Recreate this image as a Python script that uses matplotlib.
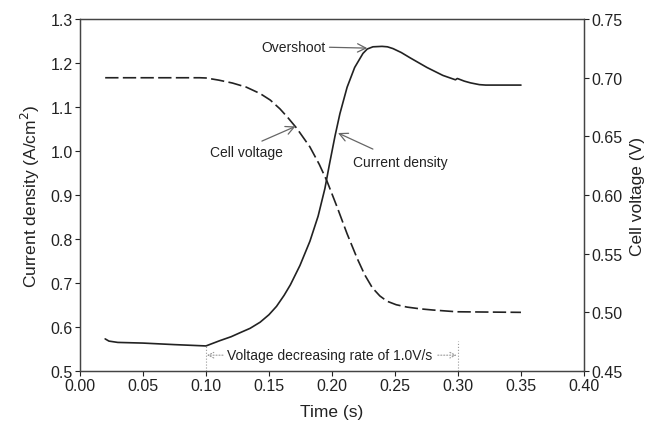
import matplotlib
matplotlib.use("Agg")
import matplotlib.pyplot as plt

plt.rcParams['font.family'] = ['Liberation Sans', 'DejaVu Sans']

# Current density (A/cm^2) vs time (s)
time_i = [0.020, 0.023, 0.030, 0.050, 0.075, 0.100, 0.111, 0.120, 0.127, 0.135,
          0.143, 0.150, 0.156, 0.162, 0.167, 0.1746, 0.1825, 0.189, 0.1944, 0.198,
          0.2024, 0.2063, 0.212, 0.218, 0.2246, 0.228, 0.2325, 0.2397, 0.244,
          0.2484, 0.255, 0.262, 0.2754, 0.288, 0.298, 0.2995, 0.305, 0.310, 0.317,
          0.322, 0.350]
current = [0.573, 0.568, 0.565, 0.5635, 0.560, 0.557, 0.569, 0.578, 0.587, 0.597,
           0.611, 0.628, 0.647, 0.672, 0.696, 0.740, 0.795, 0.852, 0.915, 0.970,
           1.034, 1.085, 1.145, 1.190, 1.222, 1.232, 1.237, 1.238, 1.237,
           1.233, 1.224, 1.212, 1.190, 1.172, 1.162, 1.165, 1.159, 1.155, 1.151,
           1.150, 1.150]

# Cell voltage (V) vs time (s)
time_v = [0.020, 0.095, 0.100, 0.110, 0.121, 0.132, 0.143, 0.151, 0.1587, 0.165,
          0.172, 0.1825, 0.190, 0.196, 0.204, 0.212, 0.220, 0.226, 0.232, 0.238,
          0.2437, 0.251, 0.2595, 0.270, 0.280, 0.299, 0.350]
voltage = [0.700, 0.700, 0.6998, 0.698, 0.6955, 0.692, 0.6865, 0.681, 0.6735, 0.666,
           0.657, 0.641, 0.626, 0.612, 0.590, 0.567, 0.546, 0.532, 0.521, 0.514,
           0.5095, 0.5065, 0.5045, 0.503, 0.502, 0.5005, 0.500]

x_ticks = [0.00, 0.05, 0.10, 0.15, 0.20, 0.25, 0.30, 0.35, 0.40]
y_ticks = [0.5, 0.6, 0.7, 0.8, 0.9, 1.0, 1.1, 1.2, 1.3]
y2_ticks = [0.45, 0.50, 0.55, 0.60, 0.65, 0.70, 0.75]

ink = '#222222'
grey = '#666666'

fig = plt.figure(figsize=(6.72, 4.35), dpi=100)
ax = fig.add_axes([0.119, 0.1448, 0.750, 0.809])
ax2 = ax.twinx()

ax.plot(time_i, current, color=ink, lw=1.2, solid_joinstyle='round',
        solid_capstyle='round')
ax2.plot(time_v, voltage, color=ink, lw=1.2, linestyle=(0, (8, 2.6)),
         dash_joinstyle='round')

ax.set_xlim(0.0, 0.4)
ax.set_ylim(0.5, 1.3)
ax2.set_ylim(0.45, 0.75)
ax.set_xticks(x_ticks)
ax.set_xticklabels([f"{t:.2f}" for t in x_ticks])
ax.set_yticks(y_ticks)
ax.set_yticklabels([f"{t:.1f}" for t in y_ticks])
ax2.set_yticks(y2_ticks)
ax2.set_yticklabels([f"{t:.2f}" for t in y2_ticks])

for a in (ax, ax2):
    a.tick_params(direction='out', length=3.5, width=0.8, labelsize=11.5,
                  colors=ink, pad=1.5)
    for s in a.spines.values():
        s.set_color('#444444')
        s.set_linewidth(0.9)

ax.set_xlabel('Time (s)', fontsize=12.5, color=ink, labelpad=8)
ax.set_ylabel('Current density (A/cm$^2$)', fontsize=12.5, color=ink, labelpad=6)
ax2.set_ylabel('Cell voltage (V)', fontsize=12.5, color=ink, labelpad=6)

arrow = dict(arrowstyle='->', color=grey, lw=0.9, shrinkA=0, shrinkB=0,
             mutation_scale=15)

# Overshoot
ax.text(0.195, 1.236, 'Overshoot', ha='right', va='center', fontsize=10, color=ink)
ax.annotate('', xy=(0.228, 1.234), xytext=(0.198, 1.236), arrowprops=arrow)

# Current density label
ax.text(0.254, 0.975, 'Current density', ha='center', va='center', fontsize=10, color=ink)
ax.annotate('', xy=(0.2048, 1.041), xytext=(0.2325, 1.0045), arrowprops=arrow)

# Cell voltage label
ax2.text(0.1325, 0.6367, 'Cell voltage', ha='center', va='center', fontsize=10, color=ink)
ax2.annotate('', xy=(0.171, 0.6585), xytext=(0.1444, 0.646), arrowprops=arrow)

# Voltage decreasing rate
ax.text(0.198, 0.536, 'Voltage decreasing rate of 1.0V/s', ha='center', va='center',
        fontsize=10, color=ink)
dot_arrow = dict(arrowstyle='->', color='#999999', lw=0.8, linestyle=':',
                 shrinkA=0, shrinkB=0, mutation_scale=10)
ax.annotate('', xy=(0.1008, 0.536), xytext=(0.1135, 0.536), arrowprops=dot_arrow)
ax.annotate('', xy=(0.299, 0.536), xytext=(0.284, 0.536), arrowprops=dot_arrow)
ax.plot([0.10, 0.10], [0.5, 0.557], color='#999999', lw=0.8, linestyle=':')
ax.plot([0.30, 0.30], [0.5, 0.568], color='#999999', lw=0.8, linestyle=':')

fig.savefig('out.png', dpi=100)
